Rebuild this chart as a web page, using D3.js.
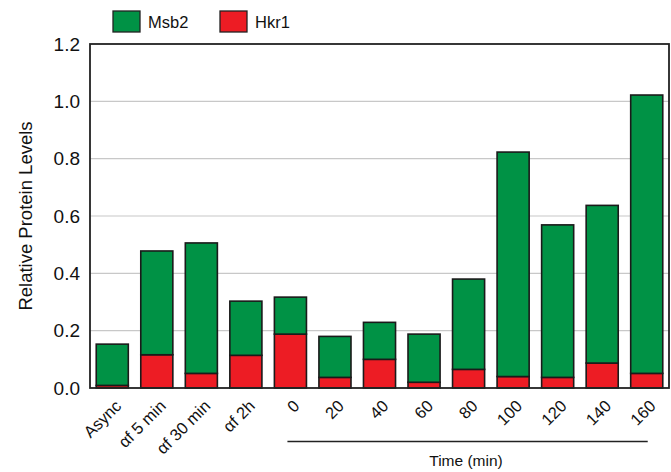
<!DOCTYPE html>
<html>
<head>
<meta charset="utf-8">
<script src="https://cdn.jsdelivr.net/npm/d3@7"></script>
<style>
  body { margin: 0; background: #fff; }
  svg { font-family: Arial, "Liberation Sans", sans-serif; }
</style>
</head>
<body>
<div id="chart"></div>
<script>
const categories = ["Async", "\u03b1f 5 min", "\u03b1f 30 min", "\u03b1f 2h", "0", "20", "40", "60", "80", "100", "120", "140", "160"];
// total bar height (Msb2 stacked on top of Hkr1)
const hkr1 = [0.009, 0.116, 0.051, 0.114, 0.188, 0.037, 0.100, 0.020, 0.065, 0.040, 0.037, 0.087, 0.051];
const totals = [0.153, 0.478, 0.506, 0.303, 0.317, 0.180, 0.229, 0.188, 0.380, 0.823, 0.569, 0.637, 1.022];
const msb2 = totals.map((t, i) => t - hkr1[i]);
const yTicks = [0, 0.2, 0.4, 0.6, 0.8, 1.0, 1.2];
const seriesNames = ["Msb2", "Hkr1"];
const seriesColors = ["#009245", "#ed1c24"];

const width = 671, height = 472;
const margin = {top: 44, right: 2, bottom: 84, left: 90};

const svg = d3.select("#chart").append("svg")
    .attr("width", width)
    .attr("height", height);

const x = d3.scaleBand()
    .domain(categories)
    .range([margin.left, width - margin.right])
    .paddingInner(0.28)
    .paddingOuter(0.14);

const y = d3.scaleLinear()
    .domain([0, 1.2])
    .range([height - margin.bottom, margin.top]);

// gridlines
svg.append("g")
    .selectAll("line")
    .data(yTicks.slice(1, -1))
    .enter()
    .append("line")
    .attr("x1", margin.left)
    .attr("x2", width - margin.right)
    .attr("y1", d => y(d))
    .attr("y2", d => y(d))
    .style("stroke", "#c8c8c8")
    .style("stroke-width", 1.2);

// y tick labels
const yAxis = svg.append("g")
    .attr("transform", `translate(${margin.left},0)`)
    .call(d3.axisLeft(y).tickValues(yTicks).tickFormat(d3.format(".1f")).tickSize(0).tickPadding(10));
yAxis.select(".domain").remove();
yAxis.selectAll("text")
    .style("font-size", "19px")
    .style("font-family", "Arial, 'Liberation Sans', sans-serif")
    .style("fill", "#111");

// stacked bars
const stackData = categories.map((c, i) => ({cat: c, Hkr1: hkr1[i], Msb2: msb2[i]}));
const stack = d3.stack().keys(["Hkr1", "Msb2"]);
const layers = stack(stackData);
const colorOf = d3.scaleOrdinal().domain(seriesNames).range(seriesColors);

svg.append("g")
    .selectAll("g")
    .data(layers)
    .enter()
    .append("g")
    .style("fill", d => colorOf(d.key))
    .selectAll("rect")
    .data(d => d)
    .enter()
    .append("rect")
    .attr("x", d => x(d.data.cat))
    .attr("width", x.bandwidth())
    .attr("y", d => y(d[1]))
    .attr("height", d => y(d[0]) - y(d[1]))
    .style("stroke", "#1a1a1a")
    .style("stroke-width", 1.6);

// plot frame
svg.append("rect")
    .attr("x", margin.left)
    .attr("y", margin.top)
    .attr("width", width - margin.right - margin.left)
    .attr("height", height - margin.bottom - margin.top)
    .style("fill", "none")
    .style("stroke", "#222")
    .style("stroke-width", 1.8);

// x labels, rotated
svg.append("g")
    .selectAll("text")
    .data(categories)
    .enter()
    .append("text")
    .attr("transform", d => `translate(${x(d) + x.bandwidth() / 2 + 6},${height - margin.bottom + 15}) rotate(-45)`)
    .attr("text-anchor", "end")
    .attr("dy", "0.35em")
    .style("font-size", "16.5px")
    .style("fill", "#111")
    .text(d => d);

// time bracket
const timeStart = x("0") + x.bandwidth() / 2 - 3, timeEnd = x("160") + x.bandwidth() / 2 + 1;
svg.append("line")
    .attr("x1", timeStart)
    .attr("x2", timeEnd)
    .attr("y1", 441.5)
    .attr("y2", 441.5)
    .style("stroke", "#222")
    .style("stroke-width", 1.3);
svg.append("text")
    .attr("x", 466)
    .attr("y", 466)
    .attr("text-anchor", "middle")
    .style("font-size", "15.5px")
    .style("fill", "#111")
    .text("Time (min)");

// y axis title
svg.append("text")
    .attr("transform", `translate(26,${(margin.top + height - margin.bottom) / 2}) rotate(-90)`)
    .attr("text-anchor", "middle")
    .attr("dy", "0.35em")
    .style("font-size", "18.5px")
    .style("fill", "#111")
    .text("Relative Protein Levels");

// legend
const legend = svg.append("g");
const legendX = [113, 220];
seriesNames.forEach((name, i) => {
    legend.append("rect")
        .attr("x", legendX[i])
        .attr("y", 11)
        .attr("width", 27)
        .attr("height", 21)
        .style("fill", seriesColors[i])
        .style("stroke", "#222")
        .style("stroke-width", 1.3);
    legend.append("text")
        .attr("x", legendX[i] + 35)
        .attr("y", 22)
        .attr("dy", "0.35em")
        .style("font-size", "16.5px")
        .style("fill", "#111")
        .text(name);
});
</script>
</body>
</html>
